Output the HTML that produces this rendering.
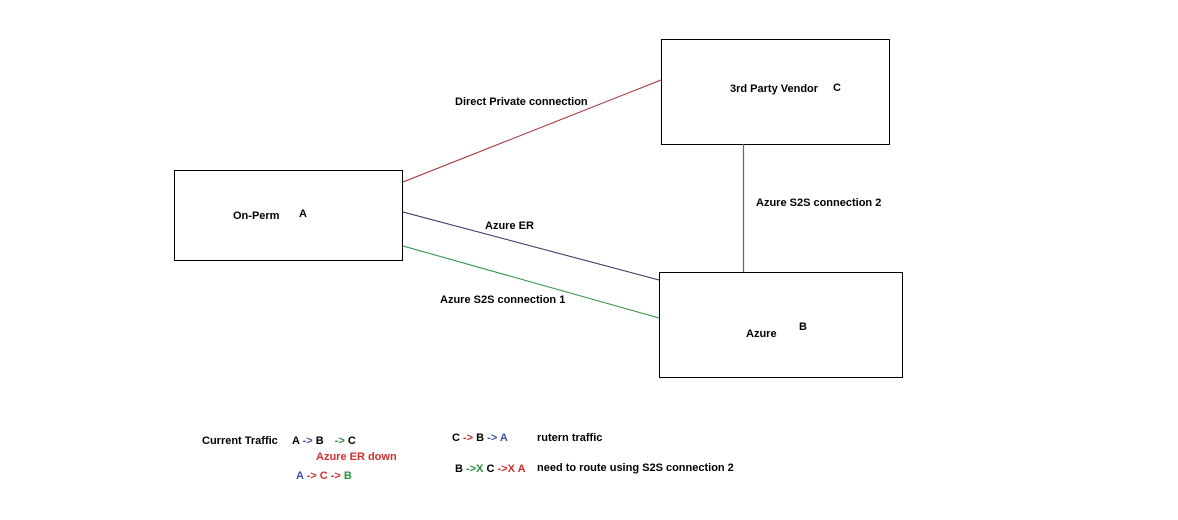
<!DOCTYPE html>
<html><head><style>
body{margin:0;width:1178px;height:515px;background:#fff;overflow:hidden}
svg text{font-family:"Liberation Sans",sans-serif;font-size:11px;font-weight:bold;fill:#000}
</style></head><body>
<svg width="1178" height="515" xmlns="http://www.w3.org/2000/svg">
<rect x="174.5" y="170.5" width="228" height="90" fill="none" stroke="#000"/>
<rect x="661.5" y="39.5" width="228" height="105" fill="none" stroke="#000"/>
<rect x="659.5" y="272.5" width="243" height="105" fill="none" stroke="#000"/>
<line x1="403" y1="182" x2="661" y2="80" stroke="#a03030"/>
<line x1="403" y1="212" x2="659" y2="280" stroke="#303060"/>
<line x1="403" y1="246" x2="659" y2="318" stroke="#2a9040"/>
<line x1="743.5" y1="144" x2="743.5" y2="272" stroke="#2a9040" stroke-width="1.2"/>
<text x="233" y="219">On-Perm</text><text x="299" y="217">A</text>
<text x="730" y="92">3rd Party Vendor</text><text x="833" y="91">C</text>
<text x="746" y="337">Azure</text><text x="799" y="330">B</text>
<text x="455" y="105">Direct Private connection</text>
<text x="485" y="229">Azure ER</text>
<text x="440" y="303">Azure S2S connection 1</text>
<text x="756" y="206">Azure S2S connection 2</text>
<text x="202" y="444">Current Traffic</text>
<text x="292" y="444">A <tspan style="fill:#4050a0">-&gt;</tspan> B <tspan dx="8" style="fill:#2a9040">-&gt;</tspan> C</text>
<text x="316" y="460" style="fill:#d03030">Azure ER down</text>
<text x="296" y="479"><tspan style="fill:#4050a0">A</tspan> <tspan style="fill:#d03030">-&gt; C -&gt;</tspan> <tspan style="fill:#2a9040">B</tspan></text>
<text x="452" y="441">C <tspan style="fill:#d03030">-&gt;</tspan> B <tspan style="fill:#4050a0">-&gt; A</tspan></text>
<text x="537" y="441">rutern traffic</text>
<text x="455" y="472">B <tspan style="fill:#2a9040">-&gt;X</tspan> C <tspan style="fill:#d03030">-&gt;X A</tspan></text>
<text x="537" y="471">need to route using S2S connection 2</text>
</svg>
</body></html>
